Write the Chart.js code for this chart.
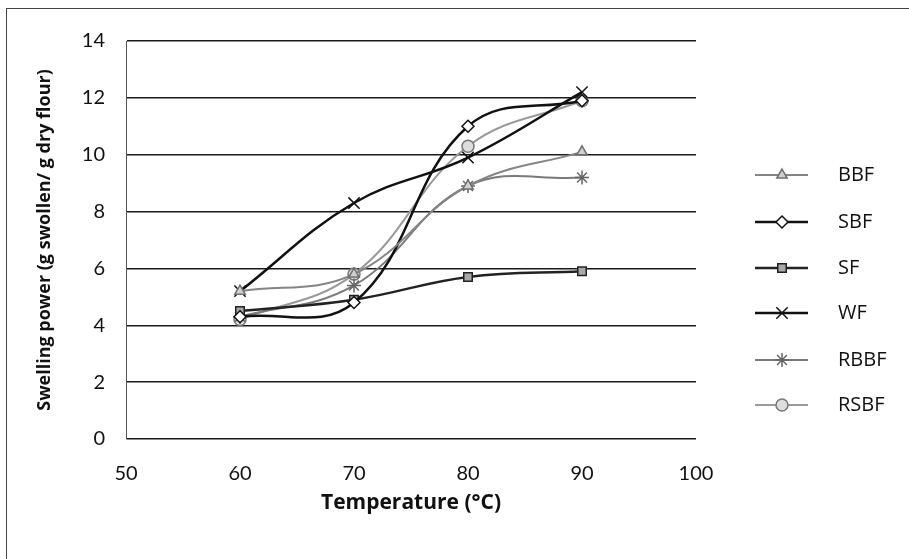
<!DOCTYPE html>
<html>
<head>
<meta charset="utf-8">
<script src="https://cdn.jsdelivr.net/npm/chart.js@4.4.1/dist/chart.umd.min.js"></script>
<style>
  html,body{margin:0;padding:0;background:#fff;overflow:hidden;}
  #wrap{position:relative;width:909px;height:559px;}
  #frame{position:absolute;left:6px;top:8px;width:910px;height:560px;border:1px solid #444;box-sizing:border-box;}
  #chart{position:absolute;left:0;top:0;}
</style>
</head>
<body>
<div id="wrap">
  <div id="frame"></div>
  <canvas id="chart" width="909" height="559"></canvas>
</div>
<script>
const temps = [60, 70, 80, 90];
const bbf  = [5.2, 5.8, 8.9, 10.1];
const sbf  = [4.3, 4.8, 11.0, 11.9];
const sf   = [4.5, 4.9, 5.7, 5.9];
const wf   = [5.2, 8.3, 9.9, 12.2];
const rbbf = [4.3, 5.4, 8.9, 9.2];
const rsbf = [4.2, 5.8, 10.3, 11.9];
const seriesNames = ["BBF", "SBF", "SF", "WF", "RBBF", "RSBF"];
const xTicks = [50, 60, 70, 80, 90, 100];

const pts = vals => vals.map((v,i) => ({x: temps[i], y: v}));
const FONT = "Lato, 'Open Sans', sans-serif";
const WIDE = "'Open Sans', Lato, sans-serif";

const styles = [
  {color:"#858585", width:2,   point:"triangle", bg:"#d0d0d0", pb:"#6f6f6f", r:6},
  {color:"#111111", width:2.5, point:"rectRot",  bg:"#ffffff", pb:"#111111", r:6},
  {color:"#222222", width:2.5, point:"rect",     bg:"#a8a8a8", pb:"#222222", r:6},
  {color:"#111111", width:2.5, point:"crossRot", bg:"#111111", pb:"#111111", r:8},
  {color:"#7a7a7a", width:2,   point:"star",     bg:"#bbbbbb", pb:"#666666", r:7},
  {color:"#9a9a9a", width:2,   point:"circle",   bg:"#dddddd", pb:"#777777", r:6}
];
const values = [bbf, sbf, sf, wf, rbbf, rsbf];

const datasets = seriesNames.map((name,i) => ({
  label: name,
  data: pts(values[i]),
  borderColor: styles[i].color,
  borderWidth: styles[i].width,
  pointStyle: styles[i].point,
  pointRadius: styles[i].r,
  pointBackgroundColor: styles[i].bg,
  pointBorderColor: styles[i].pb,
  pointBorderWidth: 1.5,
  tension: 0.4,
  fill: false
}));

// legend drawn at the right, line sample with the marker in the middle
const sideLegend = {
  id: "sideLegend",
  afterDraw(chart){
    const ctx = chart.ctx;
    const rows = [175, 222, 268, 313, 360, 405];
    chart.data.datasets.forEach((ds,i) => {
      const y = rows[i];
      ctx.save();
      ctx.strokeStyle = ds.borderColor;
      ctx.lineWidth = ds.borderWidth;
      ctx.beginPath();
      ctx.moveTo(755, y);
      ctx.lineTo(808, y);
      ctx.stroke();
      ctx.fillStyle = ds.pointBackgroundColor;
      ctx.strokeStyle = ds.pointBorderColor;
      ctx.lineWidth = ds.pointBorderWidth;
      Chart.helpers.drawPoint(ctx, {pointStyle: ds.pointStyle, radius: ds.pointRadius, borderWidth: ds.pointBorderWidth, rotation: 0}, 782, y);
      ctx.fillStyle = "#111";
      ctx.font = "20px " + WIDE;
      ctx.textBaseline = "middle";
      ctx.textAlign = "left";
      ctx.fillText(ds.label, 838, y);
      ctx.restore();
    });
  }
};

new Chart(document.getElementById("chart"), {
  type: "line",
  data: {datasets},
  plugins: [sideLegend],
  options: {
    responsive: false,
    animation: false,
    layout: {padding: {left: 34, right: 213, top: 41, bottom: 14}},
    plugins: {legend: {display: false}, tooltip: {enabled: false}},
    scales: {
      x: {
        type: "linear",
        min: 50, max: 100,
        afterBuildTicks: s => { s.ticks = xTicks.map(v => ({value: v})); },
        afterFit: s => { s.height = 106; },
        grid: {display: false, drawTicks: false},
        border: {display: false},
        ticks: {padding: 23, color: "#111", font: {family: FONT, size: 20}},
        title: {display: true, text: "Temperature (°C)", color: "#111", padding: {top: 0, bottom: 29}, font: {family: WIDE, size: 21, weight: "bold"}}
      },
      y: {
        min: 0, max: 14,
        ticks: {stepSize: 2, padding: 21, color: "#111", font: {family: FONT, size: 20}},
        afterFit: s => { s.width = 92; },
        grid: {color: "#1a1a1a", lineWidth: 1.5, drawTicks: false},
        border: {display: true, color: "#555", width: 1},
        title: {display: true, text: "Swelling power (g swollen/ g dry flour)", color: "#111", padding: {top: 0, bottom: 0}, font: {family: WIDE, size: 18, weight: "bold"}}
      }
    }
  }
});
</script>
</body>
</html>
